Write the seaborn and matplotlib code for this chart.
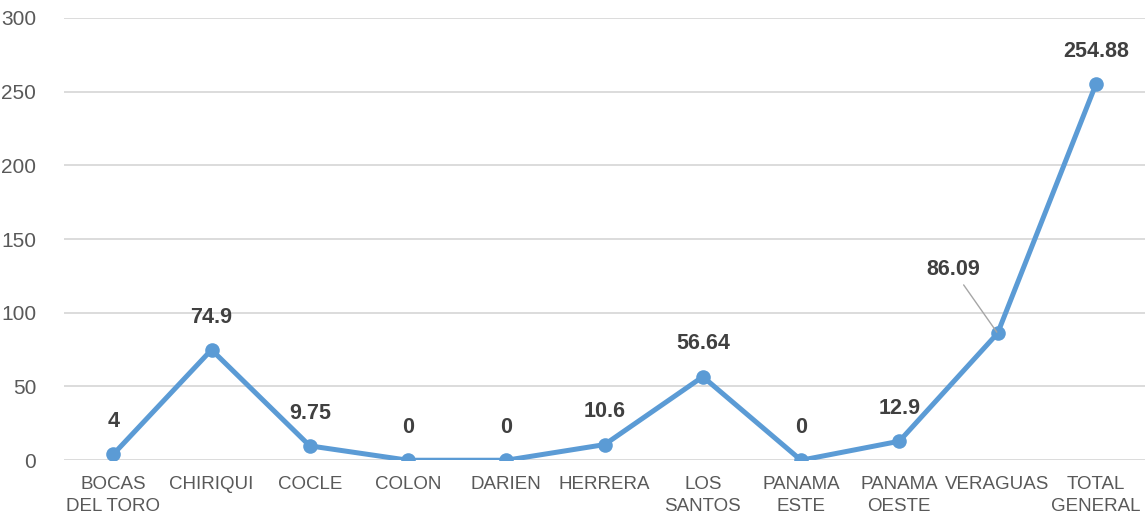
import matplotlib
matplotlib.use("Agg")
import matplotlib.pyplot as plt
import seaborn as sns
import pandas as pd

regions = ["BOCAS\nDEL TORO", "CHIRIQUI", "COCLE", "COLON", "DARIEN", "HERRERA",
           "LOS\nSANTOS", "PANAMA\nESTE", "PANAMA\nOESTE", "VERAGUAS", "TOTAL\nGENERAL"]
values = [4, 74.9, 9.75, 0, 0, 10.6, 56.64, 0, 12.9, 86.09, 254.88]
value_labels = ["4", "74.9", "9.75", "0", "0", "10.6", "56.64", "0", "12.9", "86.09", "254.88"]
y_ticks = [0, 50, 100, 150, 200, 250, 300]

sns.set_theme(style="white")
plt.rcParams["font.family"] = ["Liberation Sans", "DejaVu Sans"]

df = pd.DataFrame({"region": regions, "value": values})

fig = plt.figure(figsize=(11.45, 5.23), dpi=100)
ax = fig.add_axes([0.056, 0.12, 0.944, 0.846])

ax.set_ylim(0, 300)
ax.set_yticks(y_ticks)
ax.yaxis.grid(True, color="#D9D9D9", linewidth=1.3)
ax.set_axisbelow(True)

sns.lineplot(data=df, x="region", y="value", sort=False, ax=ax, color="#5B9BD5",
             linewidth=3.6, marker="o", markersize=10.5, markeredgewidth=0)
ax.set_xlim(-0.5, len(regions) - 0.5)

for i, (v, lab) in enumerate(zip(values, value_labels)):
    if lab == "86.09":
        ax.annotate(lab, xy=(i, v), xytext=(-32, 38), textcoords="offset points",
                    ha="center", va="bottom", fontsize=15.5, fontweight="bold", color="#404040",
                    arrowprops=dict(arrowstyle="-", color="#A6A6A6", lw=1, shrinkA=1, shrinkB=1))
    else:
        ax.annotate(lab, xy=(i, v), xytext=(0, 16), textcoords="offset points",
                    ha="center", va="bottom", fontsize=15.5, fontweight="bold", color="#404040")

for s in ax.spines.values():
    s.set_visible(False)
ax.tick_params(axis="x", length=0, labelsize=13.5, labelcolor="#595959", pad=11)
ax.tick_params(axis="y", length=0, labelsize=15, labelcolor="#595959", pad=20)
for t in ax.get_xticklabels():
    t.set_linespacing(1.45)
ax.set_xlabel("")
ax.set_ylabel("")

fig.savefig("out.png", dpi=100)
